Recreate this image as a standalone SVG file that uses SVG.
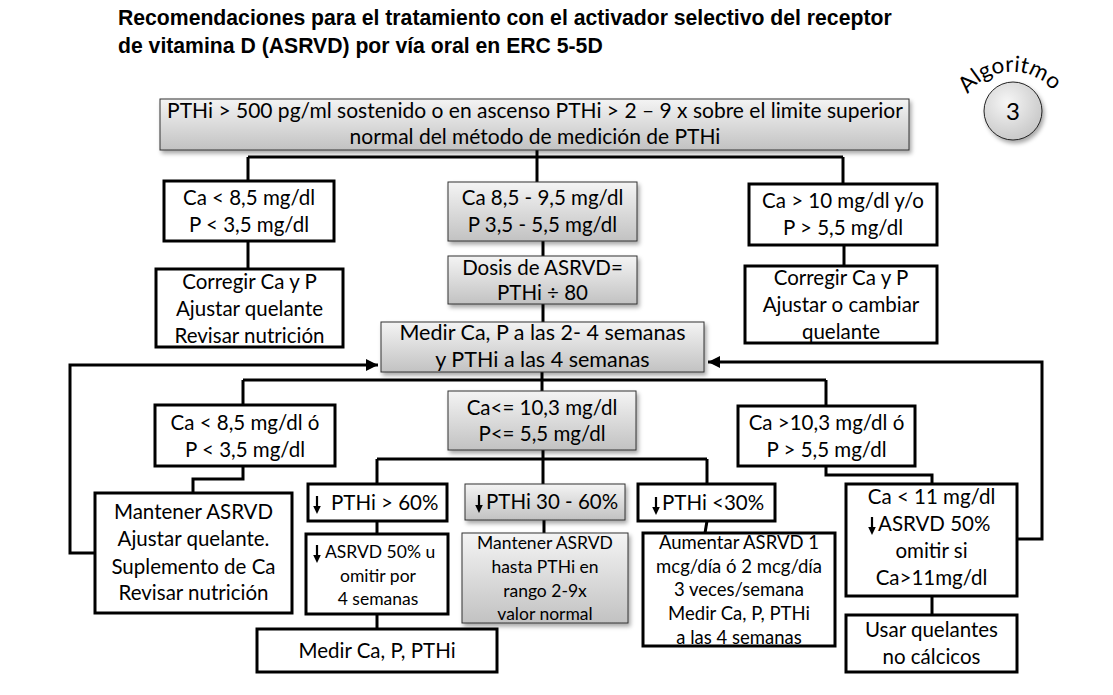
<svg xmlns="http://www.w3.org/2000/svg" xmlns:xlink="http://www.w3.org/1999/xlink" width="1113" height="695" viewBox="0 0 1113 695">
<style>
.t{font-family:Lato,"Open Sans","Noto Sans",sans-serif;font-size:20.5px;text-anchor:middle;fill:#000}
.s{font-size:17.5px}
.l{text-anchor:start}
.ttl{font-family:"Liberation Sans",Arial,sans-serif;font-weight:bold;font-size:21.2px;fill:#000}
.wb{fill:#fff;stroke:#000;stroke-width:3}
.gb{fill:url(#gg);stroke:#333;stroke-width:1;filter:url(#sh)}
.c{fill:none;stroke:#000;stroke-width:3}
</style>
<defs>
<linearGradient id="gg" x1="0" y1="0" x2="0" y2="1">
<stop offset="0" stop-color="#f4f4f4"/>
<stop offset="1" stop-color="#c2c2c2"/>
</linearGradient>
<radialGradient id="cg" cx="0.4" cy="0.35" r="0.7">
<stop offset="0" stop-color="#f6f6f6"/>
<stop offset="1" stop-color="#c6c6c6"/>
</radialGradient>
<filter id="sh" x="-10%" y="-20%" width="130%" height="160%">
<feDropShadow dx="2" dy="3" stdDeviation="2" flood-color="#000" flood-opacity="0.35"/>
</filter>
<marker id="ah" viewBox="0 0 10 10" refX="10" refY="5" markerWidth="4" markerHeight="4" orient="auto" markerUnits="strokeWidth">
<path d="M0,0 L10,5 L0,10 z" fill="#000"/>
</marker>
<g id="darr">
<path d="M0,0 V12" stroke="#000" stroke-width="2.2" fill="none"/>
<path d="M-3.8,10 L3.8,10 L0,18 z" fill="#000"/>
</g>
<path id="arcp" d="M968,94.3 A54,54 0 0 1 1058.8,99"/>
</defs>

<g id="title">
<text class="ttl" x="118" y="25">Recomendaciones para el tratamiento con el activador selectivo del receptor</text>
<text class="ttl" x="118" y="53">de vitamina D (ASRVD) por vía oral en ERC 5-5D</text>
</g>

<g id="badge">
<text class="t" style="font-size:22.5px;text-anchor:start"><textPath xlink:href="#arcp" href="#arcp">Algoritmo</textPath></text>
<circle cx="1013" cy="111" r="29" fill="url(#cg)" stroke="#222" stroke-width="1" filter="url(#sh)"/>
<text class="t" x="1013" y="120" style="font-size:24px">3</text>
</g>

<g id="connectors">
<path class="c" d="M537,150 V182"/>
<path class="c" d="M248,157 H843"/>
<path class="c" d="M248,157 V181"/>
<path class="c" d="M843,157 V184"/>
<path class="c" d="M248,241 V269"/>
<path class="c" d="M844,245 V266"/>
<path class="c" d="M543,241 V256"/>
<path class="c" d="M543,304 V322"/>
<path class="c" d="M95,553 H70 V365 H378" marker-end="url(#ah)"/>
<path class="c" d="M1017,539 H1042 V362 H708" marker-end="url(#ah)"/>
<path class="c" d="M542,372 V391"/>
<path class="c" d="M243,380 H826"/>
<path class="c" d="M243,380 V405"/>
<path class="c" d="M826,380 V406"/>
<path class="c" d="M243,466 V479 H193 V493"/>
<path class="c" d="M826,466 V475 H932 V484"/>
<path class="c" d="M543,450 V484"/>
<path class="c" d="M377,459 H707"/>
<path class="c" d="M377,459 V484"/>
<path class="c" d="M707,459 V484"/>
<path class="c" d="M377,521 V534"/>
<path class="c" d="M377,614 V629"/>
<path class="c" d="M544,520 V533"/>
<path class="c" d="M707,521 L705,533"/>
<path class="c" d="M932,596 V615"/>
</g>

<g id="n_top">
<rect class="gb" x="160" y="99" width="749" height="51"/>
<text class="t" x="535" y="118" style="font-size:21px">PTHi &gt; 500 pg/ml sostenido o en ascenso PTHi &gt; 2 – 9 x sobre el limite superior</text>
<text class="t" x="535" y="144" style="font-size:21px">normal del método de medición de PTHi</text>
</g>

<g id="n_ca_low1">
<rect class="wb" x="164" y="181" width="170" height="60"/>
<text class="t" x="249" y="205">Ca &lt; 8,5 mg/dl</text>
<text class="t" x="249" y="232">P &lt; 3,5 mg/dl</text>
</g>

<g id="n_corregir1">
<rect class="wb" x="156" y="269" width="187" height="78"/>
<text class="t" x="249.5" y="289">Corregir Ca y P</text>
<text class="t" x="249.5" y="316">Ajustar quelante</text>
<text class="t" x="249.5" y="343">Revisar nutrición</text>
</g>

<g id="n_ca_norm">
<rect class="gb" x="448" y="182" width="189" height="59"/>
<text class="t" x="542.5" y="205">Ca 8,5 - 9,5 mg/dl</text>
<text class="t" x="542.5" y="232">P 3,5 - 5,5 mg/dl</text>
</g>

<g id="n_dosis">
<rect class="gb" x="448" y="256" width="189" height="48"/>
<text class="t" x="542.5" y="275">Dosis de ASRVD=</text>
<text class="t" x="542.5" y="300">PTHi ÷ 80</text>
</g>

<g id="n_medir">
<rect class="gb" x="381" y="322" width="323" height="50"/>
<text class="t" x="542.5" y="340" style="font-size:21.5px">Medir Ca, P a las 2- 4 semanas</text>
<text class="t" x="542.5" y="367" style="font-size:21.5px">y PTHi a las 4 semanas</text>
</g>

<g id="n_ca_high1">
<rect class="wb" x="749" y="184" width="188" height="61"/>
<text class="t" x="843" y="208">Ca &gt; 10 mg/dl y/o</text>
<text class="t" x="843" y="235">P &gt; 5,5 mg/dl</text>
</g>

<g id="n_corregir2">
<rect class="wb" x="745" y="266" width="192" height="77"/>
<text class="t" x="841" y="285">Corregir Ca y P</text>
<text class="t" x="841" y="312">Ajustar o cambiar</text>
<text class="t" x="841" y="339">quelante</text>
</g>

<g id="n_ca_low2">
<rect class="wb" x="155" y="405" width="180" height="61"/>
<text class="t" x="245" y="430">Ca &lt; 8,5 mg/dl ó</text>
<text class="t" x="245" y="457">P &lt; 3,5 mg/dl</text>
</g>

<g id="n_ca_mid2">
<rect class="gb" x="448" y="391" width="188" height="59"/>
<text class="t" x="542" y="415">Ca&lt;= 10,3 mg/dl</text>
<text class="t" x="542" y="441">P&lt;= 5,5 mg/dl</text>
</g>

<g id="n_ca_high2">
<rect class="wb" x="738" y="406" width="177" height="60"/>
<text class="t" x="826.5" y="430">Ca &gt;10,3 mg/dl ó</text>
<text class="t" x="826.5" y="457">P &gt; 5,5 mg/dl</text>
</g>

<g id="n_mantener">
<rect class="wb" x="95" y="493" width="197" height="120"/>
<text class="t" x="193.5" y="519">Mantener ASRVD</text>
<text class="t" x="193.5" y="546">Ajustar quelante.</text>
<text class="t" x="193.5" y="574">Suplemento de Ca</text>
<text class="t" x="193.5" y="600">Revisar nutrición</text>
</g>

<g id="n_pthi60">
<rect class="wb" x="308" y="484" width="139" height="37"/>
<use href="#darr" xlink:href="#darr" transform="translate(317,496)"/>
<text class="t l" x="331" y="510">PTHi &gt; 60%</text>
</g>

<g id="n_asrvd50">
<rect class="wb" x="306" y="534" width="142" height="80"/>
<use href="#darr" xlink:href="#darr" transform="translate(317,545)"/>
<text class="t s l" x="325" y="558">ASRVD 50% u</text>
<text class="t s" x="378" y="582">omitir por</text>
<text class="t s" x="378" y="605">4 semanas</text>
</g>

<g id="n_medir2">
<rect class="wb" x="257" y="629" width="240" height="43"/>
<text class="t" x="377" y="658">Medir Ca, P, PTHi</text>
</g>

<g id="n_pthi3060">
<rect class="gb" x="465" y="484" width="160" height="36"/>
<use href="#darr" xlink:href="#darr" transform="translate(479,495)"/>
<text class="t l" x="486" y="509">PTHi 30 - 60%</text>
</g>

<g id="n_mantener2">
<rect class="gb" x="462" y="533" width="166" height="90"/>
<text class="t s" x="545" y="549">Mantener ASRVD</text>
<text class="t s" x="545" y="573">hasta PTHi en</text>
<text class="t s" x="545" y="597">rango 2-9x</text>
<text class="t s" x="545" y="620">valor normal</text>
</g>

<g id="n_pthi30">
<rect class="wb" x="638" y="484" width="137" height="37"/>
<use href="#darr" xlink:href="#darr" transform="translate(656,497)"/>
<text class="t l" x="662" y="510">PTHi &lt;30%</text>
</g>

<g id="n_aumentar">
<rect class="wb" x="643" y="533" width="192" height="113"/>
<text class="t s" x="739" y="549" style="font-size:18.5px">Aumentar ASRVD 1</text>
<text class="t s" x="739" y="573" style="font-size:18.5px">mcg/día ó 2 mcg/día</text>
<text class="t s" x="739" y="596" style="font-size:18.5px">3 veces/semana</text>
<text class="t s" x="739" y="620" style="font-size:18.5px">Medir Ca, P, PTHi</text>
<text class="t s" x="739" y="644" style="font-size:18.5px">a las 4 semanas</text>
</g>

<g id="n_ca11">
<rect class="wb" x="846" y="484" width="171" height="112"/>
<text class="t" x="931.5" y="504">Ca &lt; 11 mg/dl</text>
<use href="#darr" xlink:href="#darr" transform="translate(872,517)"/>
<text class="t l" x="878" y="531">ASRVD 50%</text>
<text class="t" x="931.5" y="558">omitir si</text>
<text class="t" x="931.5" y="585">Ca&gt;11mg/dl</text>
</g>

<g id="n_usar">
<rect class="wb" x="846" y="615" width="171" height="57"/>
<text class="t" x="931.5" y="637">Usar quelantes</text>
<text class="t" x="931.5" y="664">no cálcicos</text>
</g>
</svg>
